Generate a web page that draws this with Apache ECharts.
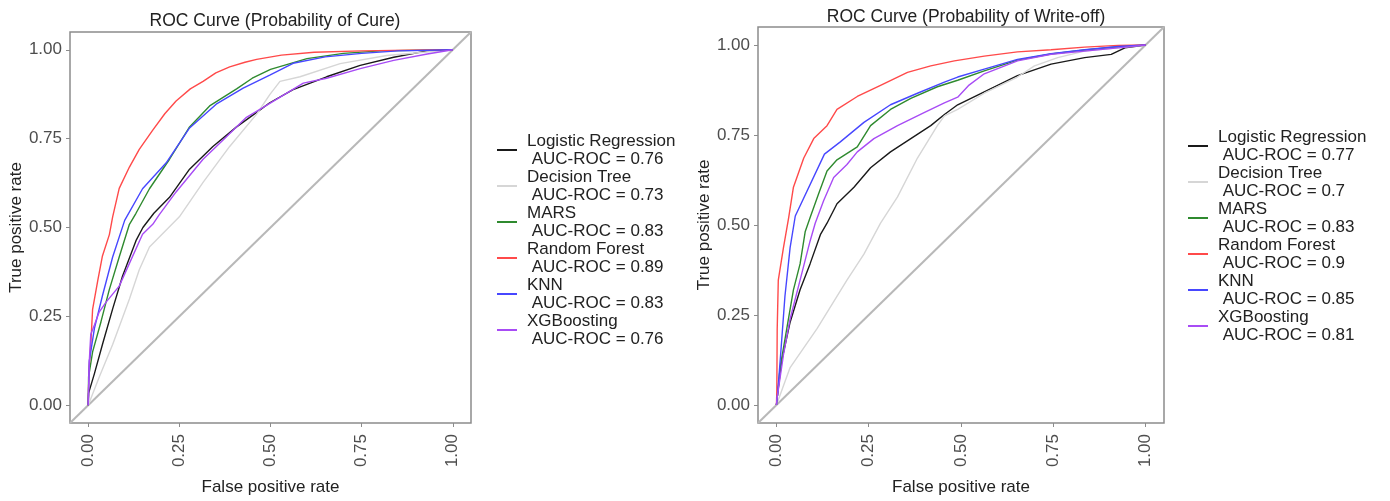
<!DOCTYPE html>
<html>
<head>
<meta charset="utf-8">
<script src="https://cdn.jsdelivr.net/npm/echarts@6/dist/echarts.min.js"></script>
<style>
  html, body { margin: 0; padding: 0; background: #fff; }
  #chart { width: 1390px; height: 501px; }
</style>
</head>
<body>
<div id="chart"></div>
<script>
const modelNames = ['Logistic Regression', 'Decision Tree', 'MARS', 'Random Forest', 'KNN', 'XGBoosting'];
const aucCure = ['0.76', '0.73', '0.83', '0.89', '0.83', '0.76'];
const aucWriteOff = ['0.77', '0.7', '0.83', '0.9', '0.85', '0.81'];
const tickValues = [0, 0.25, 0.5, 0.75, 1];
const diagonal = [[-0.05, -0.05], [1.05, 1.05]];

// probability of cure: [fpr, tpr]
const cureLR = [[0,0],[0.001,0.034],[0.017,0.089],[0.039,0.171],[0.067,0.271],[0.094,0.363],[0.131,0.463],[0.15,0.5],[0.18,0.54],[0.223,0.585],[0.278,0.664],[0.342,0.728],[0.407,0.783],[0.462,0.824],[0.498,0.851],[0.562,0.888],[0.654,0.924],[0.746,0.956],[0.838,0.979],[0.93,0.997],[1,1]];
const cureDT = [[0,0],[0.03,0.079],[0.067,0.171],[0.113,0.299],[0.14,0.381],[0.168,0.445],[0.25,0.53],[0.315,0.627],[0.388,0.728],[0.462,0.819],[0.498,0.874],[0.526,0.911],[0.581,0.924],[0.691,0.961],[0.819,0.984],[1,1]];
const cureMARS = [[0,0],[0.001,0.08],[0.012,0.15],[0.035,0.235],[0.058,0.326],[0.085,0.417],[0.113,0.509],[0.131,0.54],[0.168,0.609],[0.223,0.692],[0.278,0.783],[0.333,0.842],[0.407,0.89],[0.45,0.92],[0.5,0.945],[0.6,0.975],[0.7,0.99],[0.8,0.997],[1,1]];
const cureRF = [[0,0],[0.002,0.1],[0.007,0.17],[0.012,0.27],[0.026,0.35],[0.039,0.42],[0.058,0.48],[0.067,0.53],[0.085,0.61],[0.113,0.67],[0.14,0.72],[0.177,0.774],[0.21,0.82],[0.241,0.856],[0.28,0.89],[0.315,0.911],[0.35,0.935],[0.388,0.952],[0.43,0.965],[0.462,0.973],[0.53,0.985],[0.62,0.993],[0.75,0.997],[0.88,0.999],[1,1]];
const cureKNN = [[0,0],[0.003,0.125],[0.017,0.216],[0.039,0.308],[0.067,0.417],[0.1,0.52],[0.149,0.609],[0.214,0.682],[0.278,0.78],[0.351,0.847],[0.425,0.892],[0.498,0.929],[0.562,0.962],[0.65,0.98],[0.75,0.99],[0.85,0.997],[1,1]];
const cureXGB = [[0,0],[0.001,0.05],[0.003,0.125],[0.007,0.2],[0.017,0.226],[0.03,0.262],[0.049,0.29],[0.085,0.335],[0.113,0.399],[0.149,0.481],[0.177,0.509],[0.195,0.536],[0.241,0.6],[0.315,0.692],[0.37,0.746],[0.434,0.81],[0.48,0.838],[0.59,0.906],[0.654,0.92],[0.746,0.947],[0.838,0.97],[0.93,0.988],[1,1]];

// probability of write-off: [fpr, tpr]
const woLR = [[0,0],[0.003,0.03],[0.014,0.122],[0.037,0.23],[0.064,0.32],[0.091,0.392],[0.119,0.473],[0.137,0.505],[0.164,0.559],[0.21,0.605],[0.255,0.659],[0.309,0.703],[0.364,0.74],[0.418,0.776],[0.455,0.807],[0.491,0.834],[0.563,0.87],[0.653,0.915],[0.744,0.947],[0.835,0.965],[0.907,0.974],[0.944,0.992],[1,1]];
const woDT = [[0,0],[0.037,0.104],[0.11,0.212],[0.191,0.347],[0.237,0.419],[0.282,0.505],[0.328,0.578],[0.382,0.686],[0.436,0.776],[0.455,0.803],[0.491,0.821],[0.563,0.866],[0.653,0.911],[0.699,0.942],[0.762,0.965],[0.835,0.983],[1,1]];
const woMARS = [[0,0],[0.003,0.03],[0.01,0.104],[0.028,0.212],[0.046,0.32],[0.064,0.392],[0.078,0.482],[0.091,0.52],[0.114,0.586],[0.137,0.65],[0.164,0.681],[0.219,0.717],[0.255,0.776],[0.309,0.821],[0.364,0.852],[0.436,0.884],[0.491,0.902],[0.563,0.928],[0.653,0.958],[0.744,0.975],[0.835,0.986],[0.926,0.995],[1,1]];
const woRF = [[0,0],[0.001,0.04],[0.002,0.21],[0.005,0.347],[0.019,0.437],[0.033,0.52],[0.046,0.605],[0.074,0.686],[0.101,0.74],[0.137,0.776],[0.164,0.821],[0.219,0.857],[0.282,0.888],[0.355,0.924],[0.418,0.942],[0.482,0.956],[0.563,0.969],[0.653,0.981],[0.744,0.987],[0.835,0.994],[0.926,0.999],[1,1]];
const woKNN = [[0,0],[0.003,0.03],[0.01,0.122],[0.023,0.302],[0.037,0.437],[0.051,0.525],[0.13,0.697],[0.173,0.731],[0.237,0.785],[0.309,0.834],[0.382,0.866],[0.455,0.897],[0.491,0.911],[0.563,0.933],[0.653,0.96],[0.744,0.976],[0.835,0.987],[0.926,0.996],[1,1]];
const woXGB = [[0,0],[0.001,0.014],[0.019,0.14],[0.037,0.239],[0.064,0.347],[0.091,0.455],[0.105,0.505],[0.128,0.568],[0.155,0.632],[0.191,0.668],[0.219,0.703],[0.264,0.74],[0.328,0.776],[0.4,0.812],[0.455,0.839],[0.491,0.855],[0.52,0.887],[0.563,0.92],[0.653,0.956],[0.744,0.974],[0.835,0.983],[0.926,0.992],[1,1]];

const curveColors = ['#1a1a1a', '#d6d6d6', '#2f8a2f', '#ff4a4a', '#4747ff', '#a84cf5'];
const fontFamily = "'Liberation Sans', Arial, sans-serif";

const chart = echarts.init(document.getElementById('chart'));

function axisPair(idx) {
  const common = {
    gridIndex: idx,
    type: 'value',
    min: -0.05,
    max: 1.05,
    splitLine: { show: false },
    axisLine: { show: false, onZero: false },
    axisTick: { show: true, length: 4, customValues: tickValues, lineStyle: { color: '#8c8c8c', width: 1 } },
    nameLocation: 'middle',
    nameTextStyle: { color: '#222', fontSize: 17, fontFamily }
  };
  return {
    x: Object.assign({}, common, {
      name: 'False positive rate',
      nameGap: 56,
      axisLabel: { customValues: tickValues, rotate: 90, margin: 11, color: '#4d4d4d', fontSize: 17, fontFamily, formatter: v => v.toFixed(2) }
    }),
    y: Object.assign({}, common, {
      name: 'True positive rate',
      nameGap: 45,
      axisLabel: { customValues: tickValues, margin: 8, color: '#4d4d4d', fontSize: 17, fontFamily, formatter: v => v.toFixed(2) }
    })
  };
}

const left = axisPair(0);
const right = axisPair(1);

const cureSets = [cureLR, cureDT, cureMARS, cureRF, cureKNN, cureXGB];
const woSets = [woLR, woDT, woMARS, woRF, woKNN, woXGB];

const series = [];
[[cureSets, 0], [woSets, 1]].forEach(([sets, gi]) => {
  series.push({
    type: 'line', xAxisIndex: gi, yAxisIndex: gi, data: diagonal,
    symbol: 'none', silent: true, z: 1,
    lineStyle: { color: '#b8b8b8', width: 2 }
  });
  sets.forEach((d, i) => {
    series.push({
      name: modelNames[i], type: 'line', xAxisIndex: gi, yAxisIndex: gi, data: d,
      symbol: 'none', z: 2 + i,
      lineStyle: { color: curveColors[i], width: 1.4 },
      itemStyle: { color: curveColors[i] }
    });
  });
});

function legendFor(auc, x, y) {
  return {
    left: x, top: y, orient: 'vertical',
    data: modelNames.map(n => ({ name: n, icon: 'rect' })),
    itemWidth: 20, itemHeight: 2, itemGap: 0,
    selectedMode: false,
    formatter: name => name + '\n AUC-ROC = ' + auc[modelNames.indexOf(name)],
    textStyle: { color: '#222', fontSize: 17, fontFamily, lineHeight: 18, padding: [0, 0, 0, 5] }
  };
}

chart.setOption({
  animation: false,
  backgroundColor: '#fff',
  title: [
    { text: 'ROC Curve (Probability of Cure)', left: 270, top: 7, textAlign: 'center',
      textStyle: { color: '#222', fontSize: 17.5, fontWeight: 'normal', fontFamily } },
    { text: 'ROC Curve (Probability of Write-off)', left: 961, top: 3, textAlign: 'center',
      textStyle: { color: '#222', fontSize: 17.5, fontWeight: 'normal', fontFamily } }
  ],
  grid: [
    { left: 70, top: 32, width: 401, height: 401, show: true, borderColor: '#8c8c8c', borderWidth: 1.5, backgroundColor: '#fff' },
    { left: 758, top: 27, width: 406, height: 406, show: true, borderColor: '#8c8c8c', borderWidth: 1.5, backgroundColor: '#fff' }
  ],
  xAxis: [left.x, right.x],
  yAxis: [left.y, right.y],
  legend: [legendFor(aucCure, 492, 127), legendFor(aucWriteOff, 1183, 123)],
  series
});
</script>
</body>
</html>
